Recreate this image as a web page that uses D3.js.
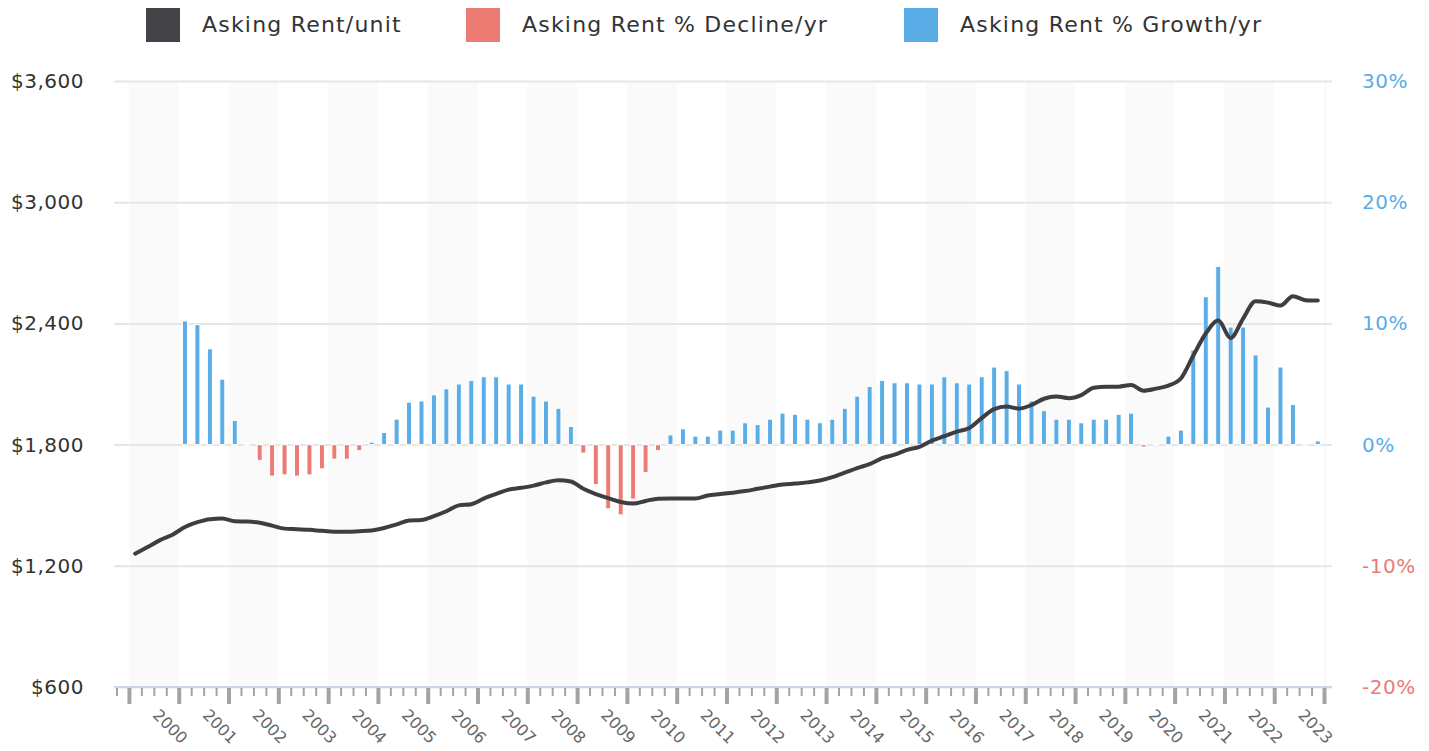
<!DOCTYPE html>
<html>
<head>
<meta charset="utf-8">
<script src="https://cdn.jsdelivr.net/npm/d3@7"></script>
<style>
  body { margin: 0; background: #fff; }
  text { font-family: "DejaVu Sans", sans-serif; }
</style>
</head>
<body>
<div id="chart-area"></div>
<script>
// quarterly data, 2000 Q1 .. 2023 Q4
var years = [2000, 2001, 2002, 2003, 2004, 2005, 2006, 2007, 2008, 2009, 2010, 2011,
             2012, 2013, 2014, 2015, 2016, 2017, 2018, 2019, 2020, 2021, 2022, 2023];
var rentPerUnit = [
    1260, 1293, 1327, 1354,   1392, 1416, 1431, 1434,   1420, 1419, 1413, 1399,
    1384, 1381, 1378, 1373,   1369, 1368, 1371, 1375,   1387, 1405, 1424, 1427,
    1446, 1470, 1499, 1505,   1533, 1556, 1577, 1586,   1597, 1613, 1624, 1617,
    1581, 1555, 1535, 1516,   1508, 1521, 1532, 1533,   1533, 1533, 1548, 1555,
    1562, 1570, 1581, 1592,   1602, 1607, 1613, 1622,   1639, 1661, 1684, 1703,
    1733, 1750, 1774, 1789,   1820, 1842, 1864, 1882,   1931, 1976, 1988, 1978,
    1996, 2027, 2038, 2030,   2045, 2081, 2087, 2087,   2095, 2067, 2077, 2092,
    2127, 2241, 2350, 2414,   2328, 2424, 2510, 2503,   2488, 2535, 2515, 2513
];
// year over year % change, 2001 Q1 .. 2023 Q4
var rentChange = [
    10.2, 9.9, 7.9, 5.4,   2.0, 0, -1.3, -2.6,    -2.5, -2.6, -2.5, -2.0,
    -1.2, -1.2, -0.5, 0.2, 1.0, 2.1, 3.5, 3.6,    4.1, 4.6, 5.0, 5.3,
    5.6, 5.6, 5.0, 5.0,    4.0, 3.6, 3.0, 1.5,    -0.7, -3.3, -5.3, -5.8,
    -4.5, -2.3, -0.5, 0.8, 1.3, 0.7, 0.7, 1.2,    1.2, 1.8, 1.65, 2.1,
    2.6, 2.5, 2.1, 1.8,    2.1, 3.0, 4.0, 4.8,    5.3, 5.1, 5.1, 5.0,
    5.0, 5.6, 5.1, 5.0,    5.6, 6.4, 6.1, 5.0,    3.6, 2.8, 2.1, 2.1,
    1.8, 2.1, 2.1, 2.5,    2.6, -0.2, 0, 0.7,     1.2, 7.8, 12.2, 14.7,
    9.7, 9.7, 7.4, 3.1,    6.4, 3.3, 0, 0.3
];
var rentTicks = [600, 1200, 1800, 2400, 3000, 3600];
var changeTicks = [-20, -10, 0, 10, 20, 30];
var legendLabels = ["Asking Rent/unit", "Asking Rent % Decline/yr", "Asking Rent % Growth/yr"];
var legendColors = ["#434348", "#ec7b74", "#5aade6"];

var width = 1218;
var height = 606;
var margin = {top: 81, right: 97, bottom: 64, left: 114};

var svg = d3.select("#chart-area").append("svg")
    .attr("width", width + margin.left + margin.right)
    .attr("height", height + margin.top + margin.bottom);

var g = svg.append("g")
    .attr("transform", "translate(" + margin.left + ", " + margin.top + ")");

var x = d3.scaleLinear()
    .domain([1999.7, 2024.16])
    .range([0, width]);

var y = d3.scaleLinear()
    .domain([600, 3600])
    .range([height, 0]);

var y2 = d3.scaleLinear()
    .domain([-20, 30])
    .range([height, 0]);

// quarter centre on the time axis
function qx(startYear, i) {
    return x(startYear + Math.floor(i / 4) + (i % 4) / 4 + 0.125);
}

// alternate year bands
g.selectAll("rect.band")
    .data(years.concat([2024]).filter((d) => { return d % 2 === 0; }))
    .enter().append("rect")
        .attr("class", "band")
        .attr("x", (d) => { return x(d); })
        .attr("y", 0)
        .attr("width", (d) => { return Math.min(x(d + 1), width - 5) - x(d); })
        .attr("height", height)
        .attr("fill", "#fafafa");

// gridlines
g.append("g")
    .call(d3.axisLeft(y).tickValues(rentTicks).tickSize(-width).tickFormat(""))
    .call((s) => s.select(".domain").remove())
    .selectAll("line")
        .attr("stroke", "#e6e6e6")
        .attr("stroke-width", 2);

// bars: decline and growth series share each quarter
var barW = 5;
g.selectAll("rect.decline")
    .data(rentChange)
    .enter().append("rect")
        .attr("class", "decline")
        .attr("x", (d, i) => { return qx(2001, i) - barW / 2; })
        .attr("y", y2(0))
        .attr("width", barW)
        .attr("height", (d) => { return Math.max(y2(Math.min(d, 0)) - y2(0), 0.5); })
        .attr("fill", legendColors[1])
        .attr("stroke", "#fff")
        .attr("stroke-width", 1);

g.selectAll("rect.growth")
    .data(rentChange)
    .enter().append("rect")
        .attr("class", "growth")
        .attr("x", (d, i) => { return qx(2001, i) - barW / 2; })
        .attr("y", (d) => { return Math.min(y2(Math.max(d, 0)), y2(0) - 0.5); })
        .attr("width", barW)
        .attr("height", (d) => { return Math.max(y2(0) - y2(Math.max(d, 0)), 0.5); })
        .attr("fill", legendColors[2])
        .attr("stroke", "#fff")
        .attr("stroke-width", 1);

// rent line
var line = d3.line()
    .x((d, i) => { return qx(2000, i); })
    .y((d) => { return y(d); })
    .curve(d3.curveMonotoneX);

g.append("path")
    .datum(rentPerUnit)
    .attr("d", line)
    .attr("fill", "none")
    .attr("stroke", "#3e3e42")
    .attr("stroke-width", 4)
    .attr("stroke-linejoin", "round")
    .attr("stroke-linecap", "round");

// x axis: quarter ticks + year ticks
var quarterTicks = d3.range(1999.75, 2024.01, 0.25).filter((d) => { return d % 1 !== 0; });
var yearTicks = years.concat([2024]);

var xMinor = g.append("g")
    .attr("transform", "translate(0, " + height + ")")
    .call(d3.axisBottom(x).tickValues(quarterTicks).tickSize(9).tickFormat(""));
xMinor.select(".domain").remove();
xMinor.selectAll("line").attr("stroke", "#a3a3a3").attr("stroke-width", 2);

var xMajor = g.append("g")
    .attr("transform", "translate(0, " + height + ")")
    .call(d3.axisBottom(x).tickValues(yearTicks).tickSize(17).tickFormat(""));
xMajor.select(".domain").remove();
xMajor.selectAll("line").attr("stroke", "#a3a3a3").attr("stroke-width", 4);

g.append("line")
    .attr("x1", 0).attr("x2", width)
    .attr("y1", height).attr("y2", height)
    .attr("stroke", "#ccd6eb")
    .attr("stroke-width", 2);

g.selectAll("text.year")
    .data(years)
    .enter().append("text")
        .attr("class", "year")
        .attr("transform", (d) => { return "translate(" + (x(d + 0.5) - 2) + ", " + (height + 29) + ") rotate(45)"; })
        .attr("font-size", "16px")
        .attr("fill", "#666")
        .text((d) => { return d; });

// left axis
var yAxisGroup = g.append("g")
    .call(d3.axisLeft(y).tickValues(rentTicks).tickSize(0).tickPadding(30)
        .tickFormat((d) => { return "$" + d3.format(",")(d); }));
yAxisGroup.select(".domain").remove();
yAxisGroup.selectAll("text")
    .attr("font-size", "20px")
    .attr("letter-spacing", "0.5px")
    .attr("font-family", "'DejaVu Sans', sans-serif")
    .attr("fill", "#333");

// right axis
var y2AxisGroup = g.append("g")
    .attr("transform", "translate(" + width + ", 0)")
    .call(d3.axisRight(y2).tickValues(changeTicks).tickSize(0).tickPadding(30)
        .tickFormat((d) => { return d + "%"; }));
y2AxisGroup.select(".domain").remove();
y2AxisGroup.selectAll("text")
    .attr("font-size", "20px")
    .attr("letter-spacing", "0.5px")
    .attr("font-family", "'DejaVu Sans', sans-serif")
    .attr("fill", (d) => { return d < 0 ? legendColors[1] : legendColors[2]; });

// legend
var legendX = [146, 466, 904];
var legend = svg.selectAll("g.legend")
    .data(legendLabels)
    .enter().append("g")
        .attr("class", "legend")
        .attr("transform", (d, i) => { return "translate(" + legendX[i] + ", 8)"; });

legend.append("rect")
    .attr("width", 34)
    .attr("height", 34)
    .attr("fill", (d, i) => { return legendColors[i]; });

legend.append("text")
    .attr("x", 56)
    .attr("y", 24)
    .attr("font-size", "22px")
    .attr("letter-spacing", "1.2px")
    .attr("fill", "#333")
    .text((d) => { return d; });
</script>
</body>
</html>
